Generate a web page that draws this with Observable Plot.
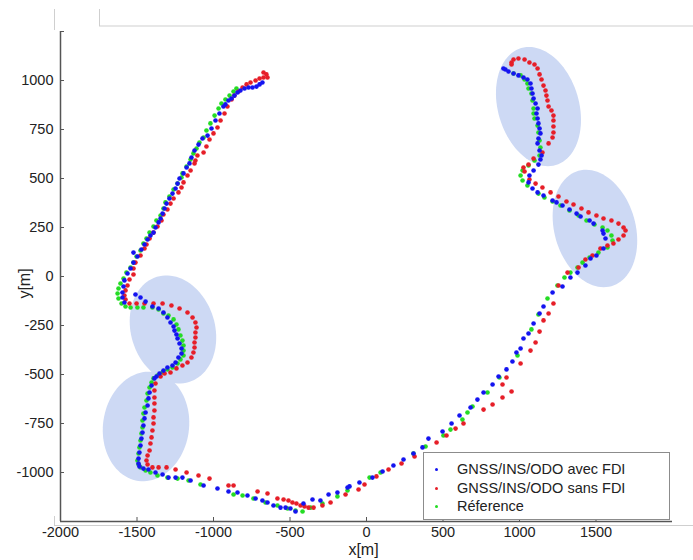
<!DOCTYPE html>
<html><head><meta charset="utf-8">
<script src="https://cdn.jsdelivr.net/npm/d3@7"></script>
<script src="https://cdn.jsdelivr.net/npm/@observablehq/plot@0.6"></script>
<style>
body{margin:0;background:#fff;}
#wrap{position:relative;width:693px;height:560px;font-family:"Liberation Sans",Arial,sans-serif;overflow:hidden;}
#wrap svg.plot{position:absolute;left:0;top:0;}
#legend{position:absolute;left:423px;top:452px;width:245px;height:66px;border:1px solid #8c8c8c;background:#fff;font-size:14.5px;color:#222;}
.row{position:absolute;left:0;height:18px;line-height:18px;width:100%;}
.row .m{position:absolute;left:11px;top:8px;width:3px;height:3px;border-radius:50%;}
.row .t{position:absolute;left:33px;top:0;white-space:nowrap;}
#deco{position:absolute;left:0;top:0;pointer-events:none;}
</style></head>
<body><div id="wrap"></div>
<script>
const xTicks = [-2000, -1500, -1000, -500, 0, 500, 1000, 1500];
const yTicks = [-1000, -750, -500, -250, 0, 250, 500, 750, 1000, 1250];
const seriesNames = ["GNSS/INS/ODO avec FDI", "GNSS/INS/ODO sans FDI", "Réference"];
const seriesColors = ["#1414f0", "#e61e28", "#24dc24"];

const avecFDI = [[-680,990],[-699,980],[-719,969],[-745,964],[-771,964],[-797,959],[-824,949],[-843,939],[-863,923],[-882,908],[-902,898],[-922,878],[-935,867],[-961,832],[-987,796],[-1013,755],[-1039,719],[-1072,704],[-1098,673],[-1124,643],[-1144,607],[-1157,577],[-1176,556],[-1196,526],[-1222,500],[-1235,474],[-1248,449],[-1268,423],[-1288,398],[-1307,372],[-1320,347],[-1333,321],[-1346,296],[-1359,276],[-1379,250],[-1392,224],[-1412,209],[-1431,189],[-1451,163],[-1471,138],[-1523,122],[-1497,102],[-1523,71],[-1542,41],[-1562,15],[-1582,-20],[-1588,-51],[-1595,-82],[-1595,-107],[-1582,-133],[-1510,-92],[-1477,-107],[-1444,-128],[-1399,-153],[-1359,-163],[-1327,-184],[-1301,-209],[-1281,-235],[-1261,-255],[-1255,-276],[-1242,-296],[-1235,-316],[-1222,-342],[-1209,-367],[-1209,-393],[-1229,-413],[-1248,-439],[-1268,-454],[-1301,-464],[-1327,-480],[-1353,-495],[-1373,-510],[-1386,-520],[-1405,-556],[-1418,-592],[-1425,-622],[-1431,-658],[-1444,-694],[-1451,-724],[-1458,-760],[-1464,-796],[-1471,-827],[-1477,-862],[-1484,-898],[-1490,-929],[-1490,-954],[-1484,-969],[-1458,-980],[-1425,-985],[-1379,-1000],[-1333,-1010],[-1294,-1026],[-1248,-1026],[-1203,-1026],[-1150,-1041],[-1065,-1066],[-974,-1082],[-902,-1097],[-843,-1102],[-778,-1117],[-725,-1133],[-680,-1143],[-647,-1153],[-608,-1168],[-562,-1179],[-529,-1179],[-497,-1184],[-464,-1199],[-412,-1158],[-353,-1138],[-301,-1143],[-248,-1112],[-190,-1102],[-124,-1077],[-111,-1071],[-46,-1051],[39,-1026],[105,-995],[176,-964],[242,-934],[307,-903],[366,-872],[405,-827],[497,-791],[556,-750],[608,-709],[680,-668],[725,-628],[765,-592],[824,-551],[863,-510],[915,-474],[954,-434],[980,-388],[1007,-367],[1026,-316],[1059,-291],[1092,-240],[1131,-189],[1157,-153],[1216,-82],[1281,-51],[1333,-5],[1379,20],[1431,56],[1464,92],[1503,107],[1549,143],[1562,194],[1549,219],[1543,235],[1484,270],[1458,286],[1399,306],[1373,321],[1327,342],[1281,362],[1242,378],[1216,388],[1157,413],[1118,429],[1085,449],[1059,480],[1065,515],[1092,541],[1124,571],[1137,597],[1144,617],[1131,643],[1118,679],[1124,704],[1137,730],[1131,755],[1124,781],[1118,806],[1111,832],[1118,857],[1105,883],[1092,908],[1085,934],[1078,959],[1072,985],[1052,1005],[1026,1015],[993,1026],[961,1036],[928,1046],[908,1056],[895,1061]];

const sansFDI = [[-673,1041],[-654,1031],[-647,1015],[-673,1015],[-699,1010],[-725,1000],[-758,990],[-784,980],[-810,964],[-837,944],[-863,923],[-882,903],[-909,867],[-928,832],[-954,796],[-974,760],[-1000,730],[-1026,699],[-1046,663],[-1065,633],[-1105,617],[-1118,592],[-1124,577],[-1150,541],[-1170,515],[-1196,480],[-1209,454],[-1229,429],[-1261,398],[-1281,372],[-1301,342],[-1327,316],[-1340,286],[-1366,255],[-1392,224],[-1418,194],[-1438,163],[-1451,143],[-1477,107],[-1510,71],[-1523,41],[-1523,10],[-1549,-15],[-1562,-46],[-1575,-71],[-1582,-97],[-1575,-117],[-1549,-138],[-1503,-138],[-1451,-138],[-1392,-138],[-1333,-138],[-1275,-148],[-1222,-163],[-1170,-184],[-1137,-209],[-1118,-235],[-1111,-260],[-1118,-286],[-1118,-311],[-1124,-337],[-1124,-362],[-1131,-388],[-1144,-413],[-1170,-439],[-1203,-454],[-1242,-469],[-1281,-490],[-1320,-495],[-1346,-510],[-1379,-546],[-1386,-582],[-1386,-617],[-1386,-648],[-1386,-684],[-1392,-719],[-1392,-750],[-1399,-786],[-1405,-821],[-1412,-852],[-1418,-888],[-1431,-913],[-1438,-939],[-1431,-959],[-1399,-974],[-1359,-974],[-1307,-974],[-1248,-985],[-1176,-1000],[-1098,-1015],[-1026,-1031],[-902,-1066],[-869,-1066],[-712,-1097],[-647,-1107],[-582,-1133],[-542,-1138],[-510,-1143],[-484,-1153],[-458,-1158],[-431,-1168],[-405,-1173],[-379,-1179],[-346,-1179],[-288,-1168],[-235,-1153],[-137,-1112],[-52,-1087],[-13,-1061],[65,-1020],[144,-985],[229,-954],[314,-918],[458,-847],[523,-811],[582,-776],[634,-750],[765,-679],[824,-653],[889,-617],[948,-587],[889,-551],[915,-515],[1007,-444],[1072,-378],[1105,-337],[1131,-281],[1157,-224],[1190,-189],[1222,-138],[1255,-46],[1314,20],[1386,46],[1431,87],[1477,107],[1529,143],[1575,158],[1614,168],[1647,189],[1680,209],[1693,235],[1680,250],[1647,270],[1601,286],[1549,296],[1503,311],[1451,327],[1405,347],[1353,367],[1307,383],[1255,408],[1203,429],[1150,454],[1105,474],[1065,495],[1033,536],[1026,556],[1059,571],[1092,602],[1150,633],[1190,679],[1216,709],[1222,735],[1222,765],[1222,796],[1222,821],[1209,847],[1190,867],[1183,898],[1176,923],[1170,949],[1157,974],[1144,1005],[1131,1031],[1118,1061],[1098,1082],[1065,1092],[1033,1107],[993,1112],[961,1107],[948,1092],[948,1082]];

const reference = [[-850,959],[-869,944],[-895,923],[-922,903],[-948,883],[-967,857],[-993,821],[-1020,781],[-1046,745],[-1065,709],[-1092,684],[-1111,653],[-1131,628],[-1150,597],[-1176,561],[-1203,526],[-1209,505],[-1235,474],[-1261,444],[-1288,408],[-1314,378],[-1327,347],[-1346,311],[-1373,286],[-1392,255],[-1418,224],[-1438,194],[-1458,168],[-1477,133],[-1503,102],[-1523,71],[-1542,46],[-1569,20],[-1588,-10],[-1608,-36],[-1621,-61],[-1627,-87],[-1621,-112],[-1601,-138],[-1575,-153],[-1542,-158],[-1497,-158],[-1458,-158],[-1399,-158],[-1359,-168],[-1327,-189],[-1294,-199],[-1261,-219],[-1242,-245],[-1229,-270],[-1216,-301],[-1203,-327],[-1196,-352],[-1196,-378],[-1196,-403],[-1216,-423],[-1235,-444],[-1268,-464],[-1301,-474],[-1333,-490],[-1366,-505],[-1392,-520],[-1405,-541],[-1418,-566],[-1431,-597],[-1438,-633],[-1451,-668],[-1458,-699],[-1464,-735],[-1464,-770],[-1471,-801],[-1477,-837],[-1484,-872],[-1490,-903],[-1497,-939],[-1490,-959],[-1477,-974],[-1444,-990],[-1412,-1000],[-1366,-1015],[-1301,-1026],[-1235,-1031],[-1163,-1041],[-1085,-1061],[-869,-1112],[-810,-1117],[-739,-1133],[-660,-1153],[-582,-1168],[-516,-1184],[-464,-1194],[-418,-1199],[-366,-1179],[-288,-1158],[-190,-1122],[-124,-1092],[20,-1026],[92,-1000],[307,-903],[386,-867],[503,-811],[549,-781],[627,-730],[660,-694],[693,-663],[791,-592],[869,-515],[987,-403],[1078,-270],[1124,-194],[1183,-112],[1248,-46],[1294,-5],[1333,20],[1379,46],[1412,71],[1458,97],[1516,122],[1575,148],[1608,184],[1601,209],[1575,235],[1543,250],[1490,265],[1438,286],[1386,311],[1327,337],[1268,362],[1216,383],[1163,403],[1124,423],[1052,464],[1020,490],[1007,515],[1020,541],[1059,566],[1098,592],[1131,617],[1137,658],[1131,694],[1124,735],[1118,770],[1098,806],[1092,832],[1092,857],[1085,898],[1078,934],[1059,959],[1052,985],[1033,1005],[1007,1026],[961,1036]];

// highlighted zones: centre in metres, semi-axes in screen pixels, tilt in degrees
const zoneCx = [1124, 1493, -1265, -1441];
const zoneCy = [867, 245, -270, -765];
const zoneA = [61, 60, 55, 55];
const zoneB = [40.5, 40.5, 42, 43];
const zoneTilt = [16.5, 16, 17, -8];

const W = 693, H = 560, mL = 60, mR = 21, mT = 31, mB = 39;
const xDomain = [-2000, 2000], yDomain = [-1250, 1250];
const kx = (W - mL - mR) / (xDomain[1] - xDomain[0]);
const ky = (H - mT - mB) / (yDomain[1] - yDomain[0]);
const zonePts = [];
zoneCx.forEach((cx, i) => {
  const phi = zoneTilt[i] * Math.PI / 180, a = zoneA[i], b = zoneB[i];
  for (let k = 0; k < 96; k++) {
    const t = k / 96 * 2 * Math.PI;
    const dx = a * Math.cos(t) * Math.sin(phi) + b * Math.sin(t) * Math.cos(phi);
    const dy = a * Math.cos(t) * Math.cos(phi) - b * Math.sin(t) * Math.sin(phi);
    zonePts.push({id: i, x: cx + dx / kx, y: zoneCy[i] - dy / ky});
  }
});

const fmt = d => d === 1250 ? "" : String(d);
const dotOpts = (c) => ({x: d => d[0], y: d => d[1], r: 2.3, fill: c, stroke: "none"});

const chart = Plot.plot({
  width: W, height: H,
  marginLeft: mL, marginRight: mR, marginTop: mT, marginBottom: mB,
  style: {fontFamily: "'Liberation Sans', Arial, sans-serif", fontSize: "14.5px", color: "#222", background: "transparent"},
  x: {domain: xDomain},
  y: {domain: yDomain},
  marks: [
    Plot.line(zonePts, {x: "x", y: "y", z: "id", fill: "#cdd9f4", stroke: "none", curve: "linear-closed"}),
    Plot.dot(reference, dotOpts(seriesColors[2])),
    Plot.dot(sansFDI, dotOpts(seriesColors[1])),
    Plot.dot(avecFDI, dotOpts(seriesColors[0])),
    Plot.ruleX([xDomain[0]], {stroke: "#555", strokeWidth: 1.5}),
    Plot.ruleY([yDomain[0]], {stroke: "#555", strokeWidth: 1.5}),
    Plot.axisX({ticks: xTicks, tickSize: -4, tickPadding: 9, tickFormat: fmt, label: null, stroke: "#555"}),
    Plot.axisY({ticks: yTicks, tickSize: -4, tickPadding: 11, tickFormat: fmt, label: null, stroke: "#555"}),
    Plot.text(["x[m]"], {frameAnchor: "bottom", dx: -3, dy: 28, textAnchor: "middle", lineAnchor: "middle", fontSize: 16, fill: "#222"}),
    Plot.text(["y[m]"], {frameAnchor: "left", dx: -36, dy: 7, rotate: -90, textAnchor: "middle", lineAnchor: "middle", fontSize: 16, fill: "#222"})
  ]
});
chart.classList.add("plot");
const wrap = document.getElementById("wrap");
wrap.appendChild(chart);

// legend
const legend = document.createElement("div");
legend.id = "legend";
const rowCenters = [16, 35, 53];
seriesNames.forEach((n, i) => {
  const row = document.createElement("div");
  row.className = "row";
  row.style.top = (rowCenters[i] - 9) + "px";
  const m = document.createElement("span"); m.className = "m"; m.style.background = seriesColors[i];
  const t = document.createElement("span"); t.className = "t"; t.textContent = n;
  row.appendChild(m); row.appendChild(t);
  legend.appendChild(row);
});
wrap.appendChild(legend);

// faint screenshot frame lines around the figure
const ns = "http://www.w3.org/2000/svg";
const deco = document.createElementNS(ns, "svg");
deco.setAttribute("id", "deco"); deco.setAttribute("width", W); deco.setAttribute("height", H);
[[54.5, 9, 54.5, 30], [99.5, 9, 99.5, 26], [99, 26, 693, 26], [54, 525.5, 693, 525.5], [54.5, 516, 54.5, 525.5]].forEach(([x1, y1, x2, y2]) => {
  const l = document.createElementNS(ns, "line");
  l.setAttribute("x1", x1); l.setAttribute("y1", y1); l.setAttribute("x2", x2); l.setAttribute("y2", y2);
  l.setAttribute("stroke", "#cfcfcf"); l.setAttribute("stroke-width", "1");
  deco.appendChild(l);
});
wrap.appendChild(deco);
</script>
</body></html>
